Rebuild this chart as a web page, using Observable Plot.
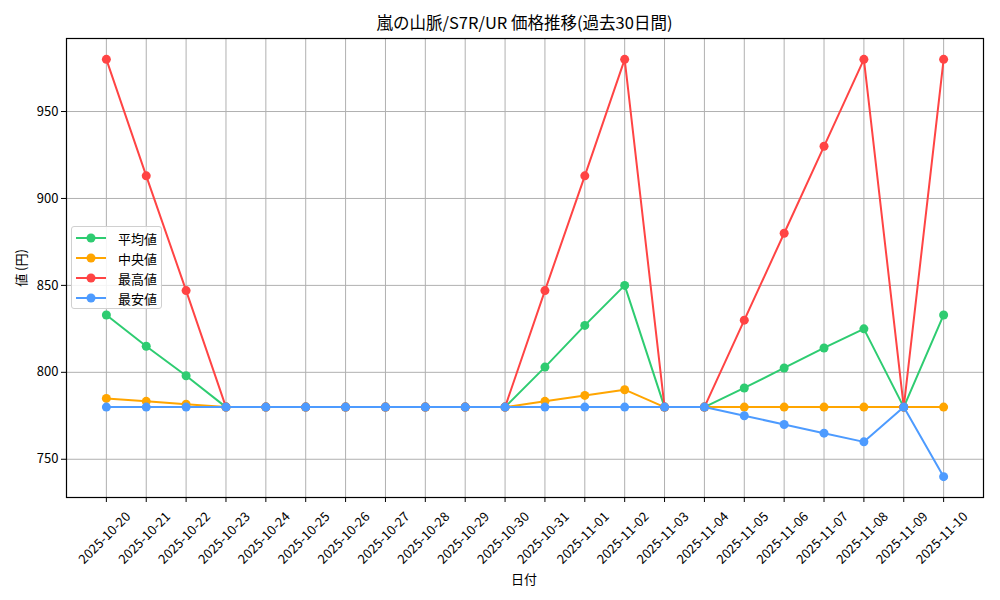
<!DOCTYPE html>
<html><head><meta charset="utf-8">
<script src="https://cdn.jsdelivr.net/npm/d3@7"></script>
<script src="https://cdn.jsdelivr.net/npm/@observablehq/plot@0.6"></script>
<style>
body{margin:0;background:#fff;font-family:"Noto Sans CJK JP",sans-serif;color:#000}
#wrap{position:relative;width:1000px;height:600px}
#title{position:absolute;top:12px;left:66px;width:917px;text-align:center;font-size:16.5px;line-height:20px}
#ylabel{position:absolute;left:20px;top:268px;transform:translate(-50%,-50%) rotate(-90deg);font-size:13px;white-space:nowrap}
#xlabel{position:absolute;left:524px;top:578px;transform:translate(-50%,-50%);font-size:13px}
#legend{position:absolute;left:71px;top:226px;width:91px;height:83px;border:1px solid #d0d0d0;border-radius:3px;background:rgba(255,255,255,0.85);box-sizing:border-box}
.row{position:absolute;left:4px;height:20px;display:flex;align-items:center;font-size:13px}
.row span{margin-left:12px}
svg{display:block}
</style></head><body>
<div id="wrap">
<div id="chart"></div>
<div id="title">嵐の山脈/S7R/UR 価格推移(過去30日間)</div>
<div id="ylabel">値 (円)</div>
<div id="xlabel">日付</div>
<div id="legend"></div>
</div>
<script>
const dates = ["2025-10-20","2025-10-21","2025-10-22","2025-10-23","2025-10-24","2025-10-25","2025-10-26","2025-10-27","2025-10-28","2025-10-29","2025-10-30","2025-10-31","2025-11-01","2025-11-02","2025-11-03","2025-11-04","2025-11-05","2025-11-06","2025-11-07","2025-11-08","2025-11-09","2025-11-10"];
const avgValues    = [833,815,798,780,780,780,780,780,780,780,780,803,827,850,780,780,791,802.5,814,825,780,833];
const medianValues = [785,783.3,781.7,780,780,780,780,780,780,780,780,783.3,786.7,790,780,780,780,780,780,780,780,780];
const maxValues    = [980,913,847,780,780,780,780,780,780,780,780,847,913,980,780,780,830,880,930,980,780,980];
const minValues    = [780,780,780,780,780,780,780,780,780,780,780,780,780,780,780,780,775,770,765,760,780,740];
const seriesNames  = ["平均値","中央値","最高値","最安値"];
const seriesColors = ["#2ecc71","#ffa500","#ff4444","#4d9bff"];
const yTicks = [750,800,850,900,950];

const seriesValues = [avgValues, medianValues, maxValues, minValues];
const marks = [
  Plot.gridX({stroke:"#b0b0b0", strokeOpacity:1, strokeWidth:1}),
  Plot.gridY(yTicks, {stroke:"#b0b0b0", strokeOpacity:1, strokeWidth:1}),
];
seriesNames.forEach((name, i) => {
  const rows = dates.map((d, j) => ({date: d, value: seriesValues[i][j], series: name}));
  marks.push(Plot.line(rows, {x:"date", y:"value", stroke: seriesColors[i], strokeWidth:2}));
  marks.push(Plot.dot(rows, {x:"date", y:"value", fill: seriesColors[i], r:4.5}));
});
marks.push(Plot.frame({stroke:"#000", strokeWidth:1.2}));
marks.push(Plot.axisX({tickSize:5, label:null, tickFormat:() => "", stroke:"#000"}));
marks.push(Plot.axisX({tickRotate:-45, tickSize:0, tickPadding:3, label:null, fontSize:13, dx:22, dy:14}));
marks.push(Plot.axisY(yTicks, {tickSize:5, tickPadding:3, label:null, fontSize:13}));

const chart = Plot.plot({
  width:1000, height:600,
  marginLeft:66, marginRight:17, marginTop:38, marginBottom:103,
  style:{fontFamily:"'Noto Sans CJK JP', sans-serif", color:"#000", background:"#fff"},
  x:{type:"point", domain:dates, padding:1.0, round:false},
  y:{domain:[728,992]},
  marks
});
document.getElementById("chart").appendChild(chart);

const legend = document.getElementById("legend");
seriesNames.forEach((name, i) => {
  const row = document.createElement("div");
  row.className = "row";
  row.style.top = (1 + i*20) + "px";
  row.innerHTML = `<svg width="30" height="10"><line x1="0" y1="5" x2="30" y2="5" stroke="${seriesColors[i]}" stroke-width="2"/><circle cx="15" cy="5" r="4.5" fill="${seriesColors[i]}"/></svg><span>${name}</span>`;
  legend.appendChild(row);
});
</script>
</body></html>
